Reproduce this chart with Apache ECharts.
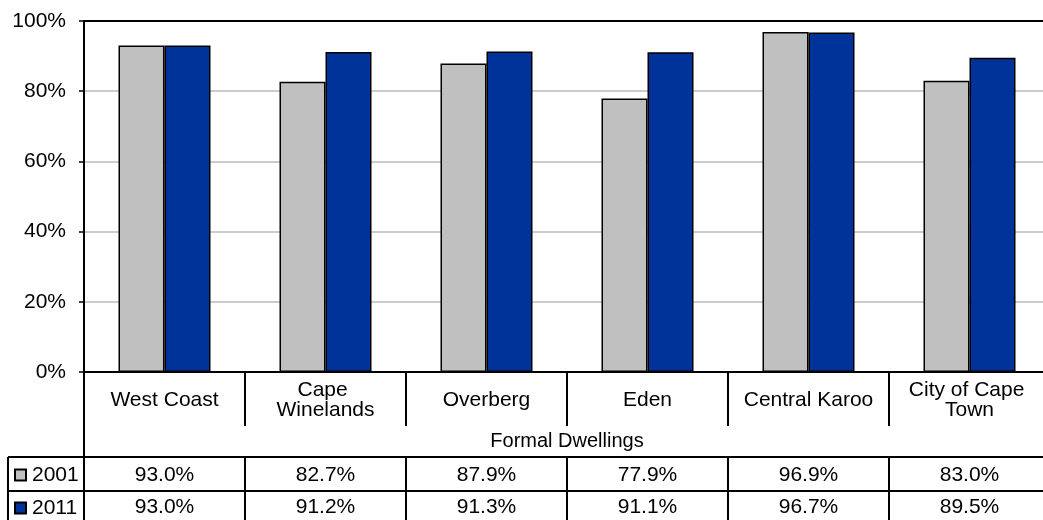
<!DOCTYPE html>
<html>
<head>
<meta charset="utf-8">
<script src="https://cdn.jsdelivr.net/npm/echarts@6/dist/echarts.min.js"></script>
<style>
html,body{margin:0;padding:0;background:#fff;}
#chart{width:1043px;height:520px;}
</style>
</head>
<body>
<div id="chart"></div>
<script>
// ---- data ----
var categories = ['West Coast', 'Cape Winelands', 'Overberg', 'Eden', 'Central Karoo', 'City of Cape Town'];
var seriesNames = ['2001', '2011'];
var values2001 = [93.0, 82.7, 87.9, 77.9, 96.9, 83.0];
var values2011 = [93.0, 91.2, 91.3, 91.1, 96.7, 89.5];
var groupTitle = 'Formal Dwellings';
var yTicks = [0, 20, 40, 60, 80, 100];

function pct1(v) { return v.toFixed(1) + '%'; }

var FONT = 'Liberation Sans, Arial, sans-serif';
var FS = 21;
var chart = echarts.init(document.getElementById('chart'), null, {renderer: 'canvas'});

var gL = 84, gT = 21, gW = 966, gH = 351;
var yBottom = gT + gH; // 372

var tableLine = {stroke: '#000', lineWidth: 2};

function legendFor(name, top) {
  return {
    orient: 'vertical',
    left: 14, top: top, padding: 0,
    itemWidth: 11, itemHeight: 11, itemGap: 0,
    icon: 'rect',
    data: [name],
    textStyle: {fontFamily: FONT, fontSize: FS, color: '#000', lineHeight: 22, padding: [2, 0, 0, 1]},
    selectedMode: false
  };
}

var option = {
  backgroundColor: '#fff',
  animation: false,
  textStyle: {fontFamily: FONT},
  grid: {
    left: gL, top: gT, width: gW, height: gH,
    show: false,
    containLabel: false, outerBoundsMode: 'none'
  },
  legend: [legendFor(seriesNames[0], 463), legendFor(seriesNames[1], 496)],
  xAxis: [
    {
      type: 'category', data: categories, position: 'bottom',
      axisLine: {show: true, lineStyle: {color: '#000', width: 2}},
      axisTick: {show: true, length: 54, lineStyle: {color: '#000', width: 2}},
      axisLabel: {
        fontFamily: FONT, fontSize: FS, color: '#000', interval: 0,
        verticalAlign: 'middle', margin: 28, lineHeight: 20,
        width: 140, overflow: 'break', align: 'center'
      },
      name: groupTitle, nameLocation: 'middle', nameGap: 69,
      nameTextStyle: {fontFamily: FONT, fontSize: 20, color: '#000', verticalAlign: 'middle'}
    },
    {
      type: 'category', data: categories, position: 'bottom', offset: 85,
      axisLine: {show: true, lineStyle: {color: '#000', width: 2}},
      axisTick: {show: true, length: 34, lineStyle: {color: '#000', width: 2}},
      axisLabel: {
        fontFamily: FONT, fontSize: FS, color: '#000', interval: 0,
        verticalAlign: 'middle', margin: 18,
        formatter: function (v, i) { return pct1(values2001[i]); }
      }
    },
    {
      type: 'category', data: categories, position: 'bottom', offset: 119,
      axisLine: {show: true, lineStyle: {color: '#000', width: 2}},
      axisTick: {show: true, length: 40, lineStyle: {color: '#000', width: 2}},
      axisLabel: {
        fontFamily: FONT, fontSize: FS, color: '#000', interval: 0,
        verticalAlign: 'middle', margin: 16,
        formatter: function (v, i) { return pct1(values2011[i]); }
      }
    }
  ],
  yAxis: {
    type: 'value', min: yTicks[0], max: yTicks[yTicks.length - 1], interval: yTicks[1] - yTicks[0],
    axisLine: {show: true, lineStyle: {color: '#000', width: 2}},
    axisTick: {show: true, length: 5, lineStyle: {color: '#000', width: 1.5}},
    axisLabel: {fontFamily: FONT, fontSize: FS, color: '#000', margin: 18,
      formatter: function (v) { return v + '%'; }},
    splitLine: {show: true, lineStyle: {color: '#BBBBBB', width: 1.5}}
  },
  series: [
    {
      name: seriesNames[0], type: 'bar', xAxisIndex: 0, data: values2001,
      barWidth: 46, barGap: '0%',
      itemStyle: {color: '#C0C0C0', borderColor: '#000', borderWidth: 1.5}
    },
    {
      name: seriesNames[1], type: 'bar', xAxisIndex: 0, data: values2011,
      barWidth: 46, barGap: '0%',
      itemStyle: {color: '#003399', borderColor: '#000', borderWidth: 1.5}
    }
  ],
  graphic: [
    {type: 'line', shape: {x1: gL, y1: gT, x2: 1043, y2: gT}, style: tableLine, silent: true, z: 10},
    {type: 'line', shape: {x1: gL, y1: yBottom, x2: gL, y2: 520}, style: tableLine, silent: true, z: 10},
    {type: 'line', shape: {x1: 8, y1: 457, x2: gL, y2: 457}, style: tableLine, silent: true, z: 10},
    {type: 'line', shape: {x1: 8, y1: 491, x2: gL, y2: 491}, style: tableLine, silent: true, z: 10},
    {type: 'line', shape: {x1: 8, y1: 457, x2: 8, y2: 520}, style: tableLine, silent: true, z: 10}
  ]
};
chart.setOption(option);
</script>
</body>
</html>
